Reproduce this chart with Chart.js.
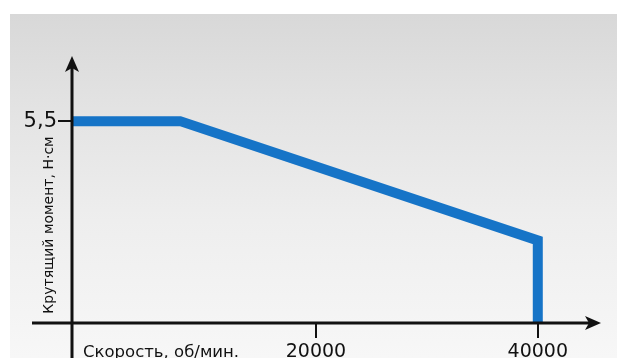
<!DOCTYPE html>
<html>
<head>
<meta charset="utf-8">
<script src="https://cdn.jsdelivr.net/npm/chart.js@4.4.1/dist/chart.umd.min.js"></script>
<style>
  body { margin: 0; background: #fff; }
  #wrap { position: relative; width: 617px; height: 358px; overflow: hidden; }
  #bg {
    position: absolute; left: 10px; top: 14px; right: 0; bottom: 0;
    background: linear-gradient(to bottom, #d8d8d8 0%, #e4e4e4 30%, #eeeeee 60%, #f7f7f7 100%);
  }
  #torqueChart { position: absolute; left: 0; top: 0; }
</style>
</head>
<body>
<div id="wrap">
  <div id="bg"></div>
  <canvas id="torqueChart" width="617" height="358"></canvas>
</div>
<script>
// speed, rpm (line starts at the y axis)
const speed = [-2000, 7750, 40000, 40000];
// torque, N·cm
const torque = [5.5, 5.5, 2.25, 0];
const xTicks = [20000, 40000];
const yTicks = [5.5];
const xTitle = 'Скорость, об/мин.';
const yTitle = 'Крутящий момент, Н·см';

const FONT = '"DejaVu Sans", Verdana, sans-serif';

const axesPlugin = {
    id: 'arrowAxes',
    afterDraw(chart) {
        const c = chart.ctx;
        const a = chart.chartArea;
        c.save();
        c.strokeStyle = '#111';
        c.fillStyle = '#111';
        c.lineWidth = 3;
        // x axis
        c.beginPath();
        c.moveTo(a.left - 40, a.bottom);
        c.lineTo(a.right - 10, a.bottom);
        c.stroke();
        c.beginPath();
        c.moveTo(a.right, a.bottom);
        c.lineTo(a.right - 16, a.bottom - 7);
        c.lineTo(a.right - 12, a.bottom);
        c.lineTo(a.right - 16, a.bottom + 7);
        c.closePath();
        c.fill();
        // y axis
        c.beginPath();
        c.moveTo(a.left, a.top + 10);
        c.lineTo(a.left, chart.height);
        c.stroke();
        c.beginPath();
        c.moveTo(a.left, a.top - 2);
        c.lineTo(a.left - 7, a.top + 14);
        c.lineTo(a.left, a.top + 10);
        c.lineTo(a.left + 7, a.top + 14);
        c.closePath();
        c.fill();
        // titles
        c.fillStyle = '#111';
        c.font = '16.5px ' + FONT;
        c.textAlign = 'left';
        c.textBaseline = 'alphabetic';
        c.fillText(xTitle, a.left + 11, chart.height - 1);
        c.font = '14px ' + FONT;
        c.translate(49, 225);
        c.rotate(-Math.PI / 2);
        c.textAlign = 'center';
        c.textBaseline = 'middle';
        c.fillText(yTitle, 0, 0);
        c.restore();
    }
};

new Chart(document.getElementById('torqueChart'), {
    type: 'line',
    data: {
        datasets: [{
            data: speed.map((s, i) => ({ x: s, y: torque[i] })),
            borderColor: '#1674c7',
            borderWidth: 10,
            borderJoinStyle: 'miter',
            borderCapStyle: 'butt',
            pointRadius: 0,
            fill: false,
            tension: 0,
            clip: false
        }]
    },
    options: {
        responsive: false,
        animation: false,
        layout: { padding: { left: 0, top: 58, right: 16, bottom: 0 } },
        plugins: {
            legend: { display: false },
            tooltip: { enabled: false }
        },
        scales: {
            x: {
                type: 'linear',
                min: -2000,
                max: 45700,
                afterFit(scale) { scale.height = 35; },
                afterBuildTicks(scale) { scale.ticks = xTicks.map(v => ({ value: v })); },
                grid: { drawOnChartArea: false, drawTicks: true, tickLength: 15, color: '#111', lineWidth: 2 },
                border: { display: false },
                ticks: {
                    color: '#111',
                    padding: 3,
                    maxRotation: 0,
                    font: { family: FONT, size: 19 },
                    callback: v => String(v)
                }
            },
            y: {
                type: 'linear',
                min: 0,
                max: 7.22,
                afterFit(scale) { scale.width = 72; },
                afterBuildTicks(scale) { scale.ticks = yTicks.map(v => ({ value: v })); },
                grid: { drawOnChartArea: false, drawTicks: true, tickLength: 14, color: '#111', lineWidth: 2 },
                border: { display: false },
                ticks: {
                    color: '#111',
                    padding: 1,
                    font: { family: FONT, size: 21 },
                    callback: v => String(v).replace('.', ',')
                }
            }
        }
    },
    plugins: [axesPlugin]
});
</script>
</body>
</html>
